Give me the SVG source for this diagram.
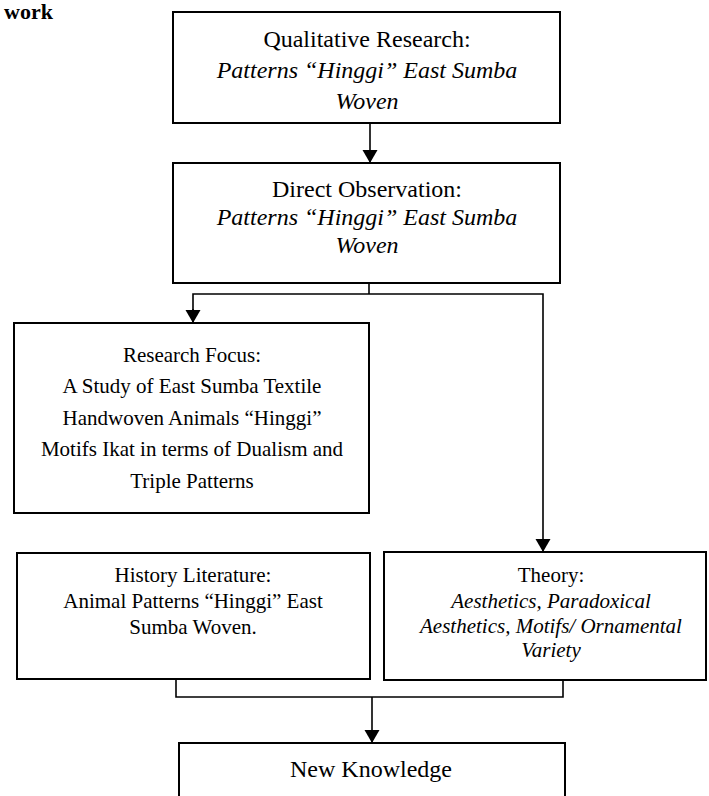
<svg xmlns="http://www.w3.org/2000/svg" width="709" height="796" viewBox="0 0 709 796">
<style>
.box{fill:#fff;stroke:#000;stroke-width:2}
.t{font-family:"Liberation Serif","Times New Roman",serif;fill:#000;text-anchor:middle}
.l{font-size:24px}
.s{font-size:21px}
.i{font-style:italic}
.c{fill:none;stroke:#000;stroke-width:1.6}
</style>
<defs>
<marker id="ah" markerUnits="userSpaceOnUse" markerWidth="14" markerHeight="16" refX="13" refY="7.5" orient="auto">
<path d="M0,0 L13,7.5 L0,15 z" fill="#000"/>
</marker>
</defs>
<rect width="709" height="796" fill="#fff"/>
<text class="t" x="4" y="19" style="font-size:22px;font-weight:bold;text-anchor:start">work</text>
<g id="connectors">
<line class="c" x1="370" y1="123" x2="370" y2="163" marker-end="url(#ah)"/>
<polyline class="c" points="369,283 369,294"/>
<polyline class="c" points="193,323 193,294 543,294 543,552" marker-end="url(#ah)"/>
<polyline class="c" points="176,679 176,697 563,697 563,680"/>
<line class="c" x1="372" y1="697" x2="372" y2="743" marker-end="url(#ah)"/>
<line class="c" x1="193" y1="309" x2="193" y2="323" marker-end="url(#ah)"/>
</g>
<g id="qualitative">
<rect class="box" x="173" y="12" width="387" height="111"/>
<text class="t l" x="367" y="47">Qualitative Research:</text>
<text class="t l i" x="367" y="78">Patterns “Hinggi” East Sumba</text>
<text class="t l i" x="367" y="109">Woven</text>
</g>
<g id="observation">
<rect class="box" x="173" y="163" width="387" height="120"/>
<text class="t l" x="367" y="197">Direct Observation:</text>
<text class="t l i" x="367" y="225">Patterns “Hinggi” East Sumba</text>
<text class="t l i" x="367" y="253">Woven</text>
</g>
<g id="focus">
<rect class="box" x="14" y="323" width="355" height="190"/>
<text class="t s" x="192" y="362">Research Focus:</text>
<text class="t s" x="192" y="393">A Study of East Sumba Textile</text>
<text class="t s" x="192" y="425">Handwoven Animals “Hinggi”</text>
<text class="t s" x="192" y="456">Motifs Ikat in terms of Dualism and</text>
<text class="t s" x="192" y="488">Triple Patterns</text>
</g>
<g id="history">
<rect class="box" x="17" y="553" width="353" height="126"/>
<text class="t s" x="193" y="582">History Literature:</text>
<text class="t s" x="193" y="608">Animal Patterns “Hinggi” East</text>
<text class="t s" x="193" y="634">Sumba Woven.</text>
</g>
<g id="theory">
<rect class="box" x="384" y="552" width="322" height="128"/>
<text class="t s" x="551" y="582">Theory:</text>
<text class="t s i" x="551" y="608">Aesthetics, Paradoxical</text>
<text class="t s i" x="551" y="633">Aesthetics, Motifs/ Ornamental</text>
<text class="t s i" x="551" y="657">Variety</text>
</g>
<g id="knowledge">
<rect class="box" x="179" y="743" width="386" height="80"/>
<text class="t l" x="371" y="777">New Knowledge</text>
</g>
</svg>
